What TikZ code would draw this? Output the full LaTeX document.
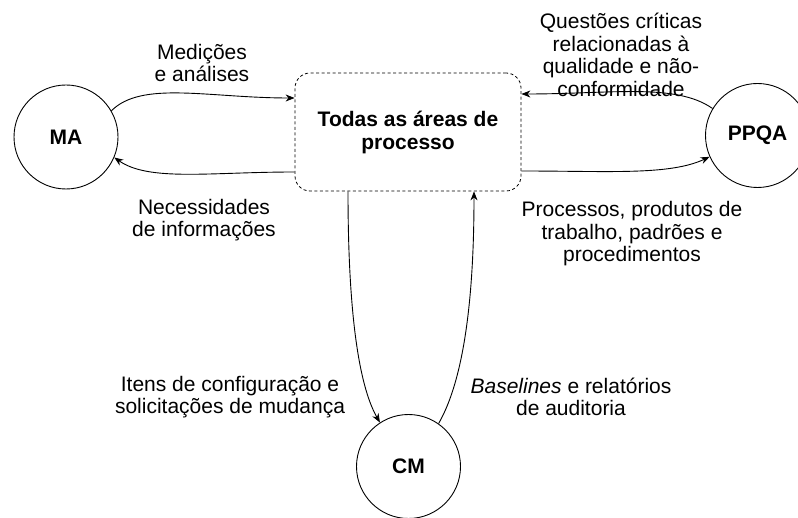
\documentclass[tikz,border=0pt]{standalone}
\usepackage{fontspec}
\setmainfont{Liberation Sans}
\usetikzlibrary{arrows.meta}
\begin{document}
\begin{tikzpicture}[x=1pt,y=-1pt]
	\tikzstyle{Vertex} = [circle, draw, line width=0.9pt, minimum size=104, inner sep=0pt, font=\bfseries\fontsize{21}{22.5}\selectfont]
	\tikzstyle{Areas} = [draw, line width=0.8pt, dash pattern=on 3pt off 2.5pt, rounded corners=15, minimum width=226, minimum height=118, align=center, font=\bfseries\fontsize{21}{23}\selectfont]
	\tikzstyle{Label} = [align=center, inner sep=0pt, font=\fontsize{21}{22.5}\selectfont]
	\tikzstyle{Flow} = [line width=0.9pt, -{Stealth[length=9pt,width=7pt]}]
	\useasboundingbox (0,0) rectangle (798,518);
	\node (Box) at (408,132) [Areas] {Todas as áreas de\\processo};
	\node (MA) at (66,137) [Vertex] {MA};
	\node (PPQA) at (757.5,135.5) [Vertex] {PPQA};
	\node (CM) at (408.5,466.5) [Vertex] {CM};
	\node (MedLbl) at (202,63) [Label] {Medições\\e análises};
	\node (NecLbl) at (204,220) [Label] {Necessidades\\de informações};
	\node (QueLbl) at (621,55) [Label] {Questões críticas\\relacionadas à\\qualidade e não-\\conformidade};
	\node (ProLbl) at (632,234) [Label] {Processos, produtos de\\trabalho, padrões e\\procedimentos};
	\node (ItemLbl) at (230,397) [Label] {Itens de configuração e\\solicitações de mudança};
	\node (BaseLbl) at (571,397) [Label] {\textit{Baselines} e relatórios\\de auditoria};
	\draw[Flow] (MA.30) to[out=45, in=180, out looseness=0.6, in looseness=1.2] ([yshift=34pt]Box.west);
	\draw[Flow] ([yshift=-40pt]Box.west) to[out=180, in=-35, out looseness=1.2, in looseness=0.6] (MA.-23);
	\draw[Flow] (PPQA.149) to[out=145, in=0, out looseness=0.6, in looseness=1.2] ([yshift=38pt]Box.east);
	\draw[Flow] ([yshift=-39pt]Box.east) to[out=0, in=205, out looseness=1.2, in looseness=0.6] (PPQA.204);
	\draw[Flow] ([xshift=-60pt]Box.south) to[out=-90, in=120, out looseness=1.5, in looseness=0.4] (CM.123);
	\draw[Flow] (CM.55) to[out=60, in=-90, out looseness=0.4, in looseness=1.5] ([xshift=66pt]Box.south);
\end{tikzpicture}
\end{document}
